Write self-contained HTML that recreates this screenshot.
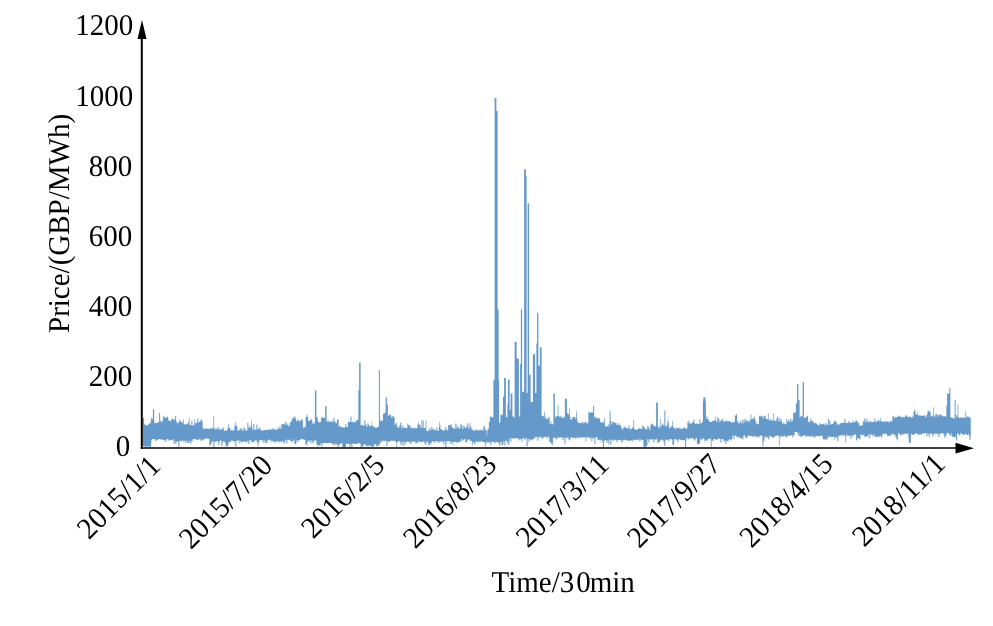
<!DOCTYPE html>
<html><head><meta charset="utf-8"><style>
html,body{margin:0;padding:0;background:#fff;width:993px;height:626px;overflow:hidden;position:relative}
.t{font-family:"Liberation Serif",serif;font-size:29px;fill:#000;text-rendering:geometricPrecision}
</style></head><body>
<svg width="993" height="626" viewBox="0 0 993 626" style="position:absolute;left:0;top:0;will-change:transform"><defs><filter id="bl" x="-1%" y="-5%" width="102%" height="110%"><feGaussianBlur stdDeviation="0.45"/></filter></defs><polygon filter="url(#bl)" fill="rgb(101,153,201)" points="142.50,418.4 143.38,418.4 143.38,417.3 144.12,417.3 144.12,424.0 144.38,424.0 144.38,424.5 145.38,424.5 145.38,425.6 147.38,425.6 147.38,424.9 148.38,424.9 148.38,424.1 148.88,424.1 148.88,423.1 149.38,423.1 149.38,423.8 150.38,423.8 150.38,422.4 150.88,422.4 150.88,417.4 151.38,417.4 151.38,417.6 151.62,417.6 151.62,419.6 152.38,419.6 152.38,418.5 152.88,418.5 152.88,409.3 154.12,409.3 154.12,420.4 154.38,420.4 154.38,423.3 155.38,423.3 155.38,422.9 156.38,422.9 156.38,423.2 157.38,423.2 157.38,421.9 158.38,421.9 158.38,422.2 159.12,422.2 159.12,412.1 159.38,412.1 159.38,413.3 160.12,413.3 160.12,422.3 160.38,422.3 160.38,420.6 161.38,420.6 161.38,421.8 162.38,421.8 162.38,421.4 162.88,421.4 162.88,417.5 163.38,417.5 163.38,416.0 164.38,416.0 164.38,418.1 165.38,418.1 165.38,417.3 165.62,417.3 165.62,417.8 166.38,417.8 166.38,416.9 167.38,416.9 167.38,416.5 168.12,416.5 168.12,418.8 168.38,418.8 168.38,420.4 169.38,420.4 169.38,421.0 170.38,421.0 170.38,421.2 171.38,421.2 171.38,419.0 172.38,419.0 172.38,418.8 173.38,418.8 173.38,419.4 174.38,419.4 174.38,419.9 175.12,419.9 175.12,417.1 175.38,417.1 175.38,416.0 176.12,416.0 176.12,420.6 176.38,420.6 176.38,422.5 177.38,422.5 177.38,423.4 178.38,423.4 178.38,421.8 179.38,421.8 179.38,420.7 179.62,420.7 179.62,419.6 180.38,419.6 180.38,421.6 181.38,421.6 181.38,422.4 182.38,422.4 182.38,422.1 182.88,422.1 182.88,419.3 183.38,419.3 183.38,419.5 183.62,419.5 183.62,424.5 184.38,424.5 184.38,424.4 185.38,424.4 185.38,423.8 186.38,423.8 186.38,424.5 187.38,424.5 187.38,423.3 188.38,423.3 188.38,421.9 188.88,421.9 188.88,417.5 189.38,417.5 189.38,419.5 189.62,419.5 189.62,425.2 190.38,425.2 190.38,425.0 191.38,425.0 191.38,420.6 192.38,420.6 192.38,425.4 193.38,425.4 193.38,425.3 194.38,425.3 194.38,419.3 195.12,419.3 195.12,422.1 195.38,422.1 195.38,423.5 196.38,423.5 196.38,422.8 197.38,422.8 197.38,418.6 198.38,418.6 198.38,422.3 199.38,422.3 199.38,421.7 200.38,421.7 200.38,419.8 201.38,419.8 201.38,420.2 202.38,420.2 202.38,422.7 202.62,422.7 202.62,428.2 203.38,428.2 203.38,428.8 204.38,428.8 204.38,428.9 205.38,428.9 205.38,428.6 206.38,428.6 206.38,428.3 207.38,428.3 207.38,429.0 208.38,429.0 208.38,428.8 209.38,428.8 209.38,429.0 210.38,429.0 210.38,427.5 211.38,427.5 211.38,428.5 212.38,428.5 212.38,428.3 213.38,428.3 213.38,416.0 214.12,416.0 214.12,426.5 214.38,426.5 214.38,428.5 215.38,428.5 215.38,429.4 216.38,429.4 216.38,428.8 217.38,428.8 217.38,426.7 218.38,426.7 218.38,429.5 219.38,429.5 219.38,428.3 220.12,428.3 220.12,429.6 220.38,429.6 220.38,429.5 221.38,429.5 221.38,429.6 222.38,429.6 222.38,427.6 223.38,427.6 223.38,428.5 223.88,428.5 223.88,430.8 224.38,430.8 224.38,431.0 225.38,431.0 225.38,430.1 226.38,430.1 226.38,430.7 227.38,430.7 227.38,428.6 228.12,428.6 228.12,424.7 228.38,424.7 228.38,424.3 228.88,424.3 228.88,427.7 229.38,427.7 229.38,428.1 230.38,428.1 230.38,430.4 231.38,430.4 231.38,430.1 232.38,430.1 232.38,430.8 233.38,430.8 233.38,430.3 234.38,430.3 234.38,425.8 235.12,425.8 235.12,421.9 235.38,421.9 235.38,422.5 235.88,422.5 235.88,426.6 236.38,426.6 236.38,426.0 237.38,426.0 237.38,430.6 239.38,430.6 239.38,429.4 240.38,429.4 240.38,428.1 241.38,428.1 241.38,429.3 242.38,429.3 242.38,430.9 243.38,430.9 243.38,427.2 244.38,427.2 244.38,428.8 245.38,428.8 245.38,430.7 246.38,430.7 246.38,430.4 247.38,430.4 247.38,422.8 248.38,422.8 248.38,427.7 249.38,427.7 249.38,426.4 250.38,426.4 250.38,428.3 250.88,428.3 250.88,423.3 251.38,423.3 251.38,419.7 251.88,419.7 251.88,426.4 252.38,426.4 252.38,429.9 253.38,429.9 253.38,423.9 254.38,423.9 254.38,429.5 255.38,429.5 255.38,430.0 256.38,430.0 256.38,424.5 257.38,424.5 257.38,429.0 258.38,429.0 258.38,429.3 259.12,429.3 259.12,428.1 259.38,428.1 259.38,426.2 259.62,426.2 259.62,428.0 260.38,428.0 260.38,430.3 261.38,430.3 261.38,430.4 262.38,430.4 262.38,430.3 263.38,430.3 263.38,430.6 264.38,430.6 264.38,430.1 265.38,430.1 265.38,429.4 266.38,429.4 266.38,429.9 267.38,429.9 267.38,429.7 268.38,429.7 268.38,429.6 269.38,429.6 269.38,429.9 270.38,429.9 270.38,429.0 271.38,429.0 271.38,428.7 271.62,428.7 271.62,429.9 272.38,429.9 272.38,428.1 273.38,428.1 273.38,429.6 274.38,429.6 274.38,428.9 275.38,428.9 275.38,430.0 276.38,430.0 276.38,429.7 277.38,429.7 277.38,427.8 278.38,427.8 278.38,428.9 279.38,428.9 279.38,426.3 280.38,426.3 280.38,428.7 281.38,428.7 281.38,424.1 282.38,424.1 282.38,424.2 284.38,424.2 284.38,423.3 284.88,423.3 284.88,424.4 285.38,424.4 285.38,421.7 286.38,421.7 286.38,425.0 287.38,425.0 287.38,423.4 288.38,423.4 288.38,426.1 289.38,426.1 289.38,426.2 289.88,426.2 289.88,422.3 291.38,422.3 291.38,419.9 292.12,419.9 292.12,416.5 292.38,416.5 292.38,418.7 293.38,418.7 293.38,417.3 294.38,417.3 294.38,416.5 295.38,416.5 295.38,418.6 296.12,418.6 296.12,421.4 296.38,421.4 296.38,421.0 297.38,421.0 297.38,419.3 298.38,419.3 298.38,421.5 299.38,421.5 299.38,420.6 299.88,420.6 299.88,420.1 300.38,420.1 300.38,421.0 301.38,421.0 301.38,419.3 302.38,419.3 302.38,420.0 302.88,420.0 302.88,426.7 303.38,426.7 303.38,428.0 304.38,428.0 304.38,426.4 305.38,426.4 305.38,427.9 305.62,427.9 305.62,417.2 306.38,417.2 306.38,414.8 307.38,414.8 307.38,417.1 308.12,417.1 308.12,420.8 308.38,420.8 308.38,420.9 309.38,420.9 309.38,420.5 310.38,420.5 310.38,420.1 311.38,420.1 311.38,418.5 312.12,418.5 312.12,421.3 312.38,421.3 312.38,423.7 313.38,423.7 313.38,422.6 314.38,422.6 314.38,423.9 314.88,423.9 314.88,390.4 316.38,390.4 316.38,417.2 317.38,417.2 317.38,415.7 317.62,415.7 317.62,420.9 318.38,420.9 318.38,422.4 320.38,422.4 320.38,421.5 321.12,421.5 321.12,417.5 321.38,417.5 321.38,417.2 322.38,417.2 322.38,418.0 323.38,418.0 323.38,417.3 324.38,417.3 324.38,418.3 325.12,418.3 325.12,406.3 325.38,406.3 325.38,406.4 326.38,406.4 326.38,405.9 326.62,405.9 326.62,421.9 327.38,421.9 327.38,420.2 328.38,420.2 328.38,421.4 329.38,421.4 329.38,421.8 330.38,421.8 330.38,422.0 331.38,422.0 331.38,420.4 332.38,420.4 332.38,422.2 333.38,422.2 333.38,418.1 334.38,418.1 334.38,421.3 335.38,421.3 335.38,422.9 336.38,422.9 336.38,423.2 336.88,423.2 336.88,420.2 337.38,420.2 337.38,419.1 338.38,419.1 338.38,420.3 338.62,420.3 338.62,426.8 339.38,426.8 339.38,425.5 340.38,425.5 340.38,426.7 341.38,426.7 341.38,427.4 343.38,427.4 343.38,427.0 344.38,427.0 344.38,427.4 345.38,427.4 345.38,424.2 346.38,424.2 346.38,427.0 347.38,427.0 347.38,426.9 347.88,426.9 347.88,421.8 348.38,421.8 348.38,422.1 349.38,422.1 349.38,421.9 350.38,421.9 350.38,416.6 351.38,416.6 351.38,422.0 352.38,422.0 352.38,421.8 353.38,421.8 353.38,422.4 354.38,422.4 354.38,421.4 355.38,421.4 355.38,422.0 356.38,422.0 356.38,420.0 357.38,420.0 357.38,419.8 358.38,419.8 358.38,390.2 359.12,390.2 359.12,362.8 360.62,362.8 360.62,425.5 361.38,425.5 361.38,424.7 362.38,424.7 362.38,424.9 363.38,424.9 363.38,426.1 364.38,426.1 364.38,420.2 365.38,420.2 365.38,424.8 366.38,424.8 366.38,426.8 367.38,426.8 367.38,423.3 368.38,423.3 368.38,424.8 369.38,424.8 369.38,426.7 370.38,426.7 370.38,425.8 371.38,425.8 371.38,424.3 371.62,424.3 371.62,420.4 372.12,420.4 372.12,425.4 372.38,425.4 372.38,426.6 373.38,426.6 373.38,426.2 374.38,426.2 374.38,427.6 375.38,427.6 375.38,427.8 377.38,427.8 377.38,426.7 378.38,426.7 378.38,426.4 378.88,426.4 378.88,370.1 379.88,370.1 379.88,421.3 380.38,421.3 380.38,419.8 381.38,419.8 381.38,421.3 382.38,421.3 382.38,420.7 382.88,420.7 382.88,414.0 383.38,414.0 383.38,413.6 384.38,413.6 384.38,412.9 385.38,412.9 385.38,410.9 385.62,410.9 385.62,397.3 386.88,397.3 386.88,404.6 387.88,404.6 387.88,415.4 388.38,415.4 388.38,415.5 389.38,415.5 389.38,414.2 390.38,414.2 390.38,414.9 391.12,414.9 391.12,416.4 391.38,416.4 391.38,417.7 392.38,417.7 392.38,415.8 393.38,415.8 393.38,416.7 394.38,416.7 394.38,417.9 394.62,417.9 394.62,424.9 395.38,424.9 395.38,423.2 396.88,423.2 396.88,426.7 397.38,426.7 397.38,427.3 398.38,427.3 398.38,427.5 399.38,427.5 399.38,424.9 400.38,424.9 400.38,422.4 401.38,422.4 401.38,428.5 402.38,428.5 402.38,425.8 403.38,425.8 403.38,427.5 404.38,427.5 404.38,428.1 406.38,428.1 406.38,428.3 407.38,428.3 407.38,423.6 408.38,423.6 408.38,425.8 409.38,425.8 409.38,425.0 410.38,425.0 410.38,428.1 411.38,428.1 411.38,427.4 412.38,427.4 412.38,428.5 413.38,428.5 413.38,427.5 414.38,427.5 414.38,428.3 415.38,428.3 415.38,427.9 416.38,427.9 416.38,428.5 417.38,428.5 417.38,425.6 417.88,425.6 417.88,422.8 418.38,422.8 418.38,421.5 418.62,421.5 418.62,424.3 419.38,424.3 419.38,424.8 420.38,424.8 420.38,427.8 421.38,427.8 421.38,420.5 422.38,420.5 422.38,427.8 422.88,427.8 422.88,420.0 423.38,420.0 423.38,420.2 423.62,420.2 423.62,428.0 424.38,428.0 424.38,428.3 425.38,428.3 425.38,428.0 425.62,428.0 425.62,420.2 426.38,420.2 426.38,431.0 427.38,431.0 427.38,430.4 428.38,430.4 428.38,430.8 429.38,430.8 429.38,428.0 430.38,428.0 430.38,429.9 431.38,429.9 431.38,427.0 432.38,427.0 432.38,429.5 433.38,429.5 433.38,429.4 434.38,429.4 434.38,429.3 435.38,429.3 435.38,431.0 436.38,431.0 436.38,427.3 437.38,427.3 437.38,430.5 438.38,430.5 438.38,430.9 438.88,430.9 438.88,426.8 439.38,426.8 439.38,421.4 439.88,421.4 439.88,424.8 440.38,424.8 440.38,429.1 441.38,429.1 441.38,429.5 442.38,429.5 442.38,430.5 443.38,430.5 443.38,430.4 444.38,430.4 444.38,429.7 445.38,429.7 445.38,427.0 446.38,427.0 446.38,429.8 447.38,429.8 447.38,430.5 448.12,430.5 448.12,425.4 448.38,425.4 448.38,425.0 449.38,425.0 449.38,425.3 450.38,425.3 450.38,424.4 451.38,424.4 451.38,423.5 451.62,423.5 451.62,426.8 452.38,426.8 452.38,428.1 453.38,428.1 453.38,428.2 454.38,428.2 454.38,428.9 455.38,428.9 455.38,423.5 456.38,423.5 456.38,427.9 457.38,427.9 457.38,425.8 458.38,425.8 458.38,428.5 459.38,428.5 459.38,428.2 460.38,428.2 460.38,424.1 461.38,424.1 461.38,425.7 462.38,425.7 462.38,428.9 463.38,428.9 463.38,425.4 464.38,425.4 464.38,427.6 465.38,427.6 465.38,428.2 466.38,428.2 466.38,426.2 467.38,426.2 467.38,423.3 468.38,423.3 468.38,428.8 469.38,428.8 469.38,427.8 469.62,427.8 469.62,422.8 470.38,422.8 470.38,426.5 471.38,426.5 471.38,429.3 472.38,429.3 472.38,430.0 473.38,430.0 473.38,430.9 474.38,430.9 474.38,430.6 475.38,430.6 475.38,429.3 476.38,429.3 476.38,430.8 477.38,430.8 477.38,429.4 478.38,429.4 478.38,430.8 479.38,430.8 479.38,429.8 480.38,429.8 480.38,430.2 481.38,430.2 481.38,429.5 482.38,429.5 482.38,430.4 483.38,430.4 483.38,425.9 484.38,425.9 484.38,427.6 485.38,427.6 485.38,430.6 486.12,430.6 486.12,435.4 486.38,435.4 486.38,430.6 487.38,430.6 487.38,435.2 487.62,435.2 487.62,429.1 488.38,429.1 488.38,428.6 488.88,428.6 488.88,421.9 489.38,421.9 489.38,422.1 489.88,422.1 489.88,417.1 490.38,417.1 490.38,416.2 491.38,416.2 491.38,417.6 492.38,417.6 492.38,417.3 493.38,417.3 493.38,380.0 494.62,380.0 494.62,97.9 496.38,97.9 496.38,111.0 497.62,111.0 497.62,309.4 498.62,309.4 498.62,380.0 499.12,380.0 499.12,422.9 499.38,422.9 499.38,422.7 500.38,422.7 500.38,414.6 501.38,414.6 501.38,415.3 502.38,415.3 502.38,413.9 502.88,413.9 502.88,396.8 504.12,396.8 504.12,378.0 505.88,378.0 505.88,416.8 506.38,416.8 506.38,416.9 507.38,416.9 507.38,404.2 507.88,404.2 507.88,379.6 509.62,379.6 509.62,409.4 510.38,409.4 510.38,411.6 510.62,411.6 510.62,393.6 512.38,393.6 512.38,416.3 513.38,416.3 513.38,417.3 514.38,417.3 514.38,417.7 514.62,417.7 514.62,341.9 516.62,341.9 516.62,358.6 518.88,358.6 518.88,417.3 519.38,417.3 519.38,415.5 520.12,415.5 520.12,363.9 520.88,363.9 520.88,309.4 522.12,309.4 522.12,391.7 524.12,391.7 524.12,169.2 525.88,169.2 525.88,176.2 526.62,176.2 526.62,393.0 527.62,393.0 527.62,203.2 529.12,203.2 529.12,374.8 530.62,374.8 530.62,402.0 532.88,402.0 532.88,354.3 535.12,354.3 535.12,393.0 536.38,393.0 536.38,343.5 537.12,343.5 537.12,312.8 538.38,312.8 538.38,365.8 539.88,365.8 539.88,347.3 541.62,347.3 541.62,415.7 543.38,415.7 543.38,416.7 544.12,416.7 544.12,411.5 544.38,411.5 544.38,412.4 544.88,412.4 544.88,418.9 545.38,418.9 545.38,417.1 546.38,417.1 546.38,419.1 547.38,419.1 547.38,419.0 548.38,419.0 548.38,416.9 549.38,416.9 549.38,416.4 549.62,416.4 549.62,424.0 550.38,424.0 550.38,421.2 551.38,421.2 551.38,424.1 552.38,424.1 552.38,424.4 553.38,424.4 553.38,393.6 554.88,393.6 554.88,417.8 555.38,417.8 555.38,416.7 556.38,416.7 556.38,416.0 557.38,416.0 557.38,416.5 557.62,416.5 557.62,405.0 558.38,405.0 558.38,415.7 559.38,415.7 559.38,416.9 560.38,416.9 560.38,416.1 561.38,416.1 561.38,417.7 562.38,417.7 562.38,417.9 563.38,417.9 563.38,416.8 564.38,416.8 564.38,417.4 564.88,417.4 564.88,398.7 566.88,398.7 566.88,413.2 568.38,413.2 568.38,414.7 569.12,414.7 569.12,409.6 569.38,409.6 569.38,408.1 569.88,408.1 569.88,417.0 570.38,417.0 570.38,419.4 571.38,419.4 571.38,419.3 572.38,419.3 572.38,417.0 575.38,417.0 575.38,419.0 576.12,419.0 576.12,412.5 576.38,412.5 576.38,410.5 576.88,410.5 576.88,418.8 577.38,418.8 577.38,422.0 578.38,422.0 578.38,423.1 579.38,423.1 579.38,423.3 580.38,423.3 580.38,423.0 581.38,423.0 581.38,421.8 582.38,421.8 582.38,423.5 583.38,423.5 583.38,421.7 584.38,421.7 584.38,422.9 585.38,422.9 585.38,421.0 586.38,421.0 586.38,423.4 587.38,423.4 587.38,422.7 588.38,422.7 588.38,411.4 589.38,411.4 589.38,412.7 590.38,412.7 590.38,412.2 591.38,412.2 591.38,412.4 593.12,412.4 593.12,406.1 593.38,406.1 593.38,406.0 594.12,406.0 594.12,418.3 594.38,418.3 594.38,416.5 595.38,416.5 595.38,418.3 596.38,418.3 596.38,416.9 597.38,416.9 597.38,419.0 598.38,419.0 598.38,418.1 599.38,418.1 599.38,418.2 600.12,418.2 600.12,422.2 600.38,422.2 600.38,422.0 601.38,422.0 601.38,423.0 602.38,423.0 602.38,421.4 603.38,421.4 603.38,422.9 604.12,422.9 604.12,418.4 604.38,418.4 604.38,417.8 604.88,417.8 604.88,426.2 605.38,426.2 605.38,426.6 606.38,426.6 606.38,425.7 607.38,425.7 607.38,426.7 608.38,426.7 608.38,424.3 609.38,424.3 609.38,426.5 609.62,426.5 609.62,411.4 610.38,411.4 610.38,409.3 610.62,409.3 610.62,421.1 611.38,421.1 611.38,424.6 612.38,424.6 612.38,421.5 613.38,421.5 613.38,421.9 614.38,421.9 614.38,422.9 615.38,422.9 615.38,423.2 616.38,423.2 616.38,424.9 617.38,424.9 617.38,422.9 618.38,422.9 618.38,425.3 619.38,425.3 619.38,424.5 620.38,424.5 620.38,425.5 621.12,425.5 621.12,429.3 621.38,429.3 621.38,427.4 622.38,427.4 622.38,429.4 623.38,429.4 623.38,427.2 624.38,427.2 624.38,426.6 625.38,426.6 625.38,428.0 626.38,428.0 626.38,427.9 627.38,427.9 627.38,428.6 628.62,428.6 628.62,424.8 629.38,424.8 629.38,428.6 630.38,428.6 630.38,429.5 631.38,429.5 631.38,428.4 632.38,428.4 632.38,427.2 633.38,427.2 633.38,419.7 634.12,419.7 634.12,429.0 635.38,429.0 635.38,429.8 637.38,429.8 637.38,428.9 638.38,428.9 638.38,428.4 639.38,428.4 639.38,427.9 640.38,427.9 640.38,428.9 642.38,428.9 642.38,425.2 643.38,425.2 643.38,426.9 644.38,426.9 644.38,427.9 645.38,427.9 645.38,429.7 646.38,429.7 646.38,428.9 647.38,428.9 647.38,426.0 648.38,426.0 648.38,427.5 649.38,427.5 649.38,429.9 650.38,429.9 650.38,424.7 651.38,424.7 651.38,423.4 652.38,423.4 652.38,424.3 653.38,424.3 653.38,425.9 654.38,425.9 654.38,426.6 655.38,426.6 655.38,425.9 656.12,425.9 656.12,402.4 657.88,402.4 657.88,427.7 658.38,427.7 658.38,426.2 659.38,426.2 659.38,427.7 660.38,427.7 660.38,418.8 661.12,418.8 661.12,426.7 661.38,426.7 661.38,425.3 662.38,425.3 662.38,423.6 663.38,423.6 663.38,425.5 664.38,425.5 664.38,410.4 665.38,410.4 665.38,426.4 666.38,426.4 666.38,425.4 667.38,425.4 667.38,420.5 668.12,420.5 668.12,416.0 668.38,416.0 668.38,422.8 668.88,422.8 668.88,428.3 669.38,428.3 669.38,428.1 670.38,428.1 670.38,426.8 671.38,426.8 671.38,426.3 672.38,426.3 672.38,420.8 673.12,420.8 673.12,427.4 673.38,427.4 673.38,427.6 674.38,427.6 674.38,428.4 675.38,428.4 675.38,428.9 676.38,428.9 676.38,427.5 677.38,427.5 677.38,427.8 678.38,427.8 678.38,428.8 679.38,428.8 679.38,427.3 680.38,427.3 680.38,429.0 681.38,429.0 681.38,428.8 682.38,428.8 682.38,428.6 683.38,428.6 683.38,427.6 684.38,427.6 684.38,427.4 685.38,427.4 685.38,428.8 686.38,428.8 686.38,428.6 687.38,428.6 687.38,422.2 688.12,422.2 688.12,423.8 688.38,423.8 688.38,420.7 689.38,420.7 689.38,423.2 690.38,423.2 690.38,424.0 691.38,424.0 691.38,422.7 692.38,422.7 692.38,422.3 693.38,422.3 693.38,419.6 694.38,419.6 694.38,423.5 695.38,423.5 695.38,423.9 696.38,423.9 696.38,423.2 697.38,423.2 697.38,423.9 698.38,423.9 698.38,424.0 699.38,424.0 699.38,419.5 700.38,419.5 700.38,423.6 701.38,423.6 701.38,422.9 702.38,422.9 702.38,421.3 702.88,421.3 702.88,401.0 703.38,401.0 703.38,397.3 705.38,397.3 705.38,401.0 705.88,401.0 705.88,416.6 706.38,416.6 706.38,419.0 707.38,419.0 707.38,416.8 708.12,416.8 708.12,420.2 709.38,420.2 709.38,422.0 711.38,422.0 711.38,421.7 712.38,421.7 712.38,420.5 713.38,420.5 713.38,420.4 714.38,420.4 714.38,421.1 714.88,421.1 714.88,417.2 715.38,417.2 715.38,416.0 715.62,416.0 715.62,420.0 716.38,420.0 716.38,422.0 717.38,422.0 717.38,417.1 718.38,417.1 718.38,419.1 719.38,419.1 719.38,422.0 720.38,422.0 720.38,420.3 722.38,420.3 722.38,419.1 723.38,419.1 723.38,422.1 724.38,422.1 724.38,420.9 725.38,420.9 725.38,420.7 726.38,420.7 726.38,421.5 727.38,421.5 727.38,420.6 728.38,420.6 728.38,421.6 729.38,421.6 729.38,421.1 730.38,421.1 730.38,422.1 731.38,422.1 731.38,422.4 732.38,422.4 732.38,422.3 734.38,422.3 734.38,421.8 734.88,421.8 734.88,415.0 735.38,415.0 735.38,415.7 736.38,415.7 736.38,413.8 737.12,413.8 737.12,421.6 738.38,421.6 738.38,423.4 739.38,423.4 739.38,422.8 740.38,422.8 740.38,420.8 741.38,420.8 741.38,423.4 742.38,423.4 742.38,419.6 743.38,419.6 743.38,423.3 743.88,423.3 743.88,418.8 744.62,418.8 744.62,422.2 745.38,422.2 745.38,419.4 746.38,419.4 746.38,420.8 748.38,420.8 748.38,422.2 749.38,422.2 749.38,420.1 750.38,420.1 750.38,421.8 750.62,421.8 750.62,414.5 751.38,414.5 751.38,419.0 752.38,419.0 752.38,418.5 753.38,418.5 753.38,418.3 754.38,418.3 754.38,416.5 755.12,416.5 755.12,419.3 755.38,419.3 755.38,421.5 756.38,421.5 756.38,424.5 757.38,424.5 757.38,423.7 758.38,423.7 758.38,423.9 758.88,423.9 758.88,416.1 759.38,416.1 759.38,415.6 759.88,415.6 759.88,417.1 760.38,417.1 760.38,415.8 762.38,415.8 762.38,418.3 763.38,418.3 763.38,416.0 764.38,416.0 764.38,418.3 764.62,418.3 764.62,415.7 765.38,415.7 765.38,414.6 765.62,414.6 765.62,418.5 766.38,418.5 766.38,419.3 767.38,419.3 767.38,418.9 767.88,418.9 767.88,413.1 768.38,413.1 768.38,413.3 768.62,413.3 768.62,420.3 770.38,420.3 770.38,418.9 771.38,418.9 771.38,420.6 772.38,420.6 772.38,420.7 773.38,420.7 773.38,413.2 774.12,413.2 774.12,420.1 774.38,420.1 774.38,420.4 775.38,420.4 775.38,421.2 776.38,421.2 776.38,418.5 777.38,418.5 777.38,416.5 778.38,416.5 778.38,421.6 779.38,421.6 779.38,418.3 780.38,418.3 780.38,421.2 781.38,421.2 781.38,419.2 782.12,419.2 782.12,424.3 782.38,424.3 782.38,423.5 783.38,423.5 783.38,422.5 784.38,422.5 784.38,424.0 785.38,424.0 785.38,424.4 786.38,424.4 786.38,419.1 787.12,419.1 787.12,420.3 787.38,420.3 787.38,421.7 788.38,421.7 788.38,419.6 789.38,419.6 789.38,421.8 790.38,421.8 790.38,418.5 791.38,418.5 791.38,421.7 792.38,421.7 792.38,420.1 793.12,420.1 793.12,411.3 793.38,411.3 793.38,412.9 794.38,412.9 794.38,412.7 795.38,412.7 795.38,412.0 795.88,412.0 795.88,403.2 797.12,403.2 797.12,384.1 798.38,384.1 798.38,400.0 799.62,400.0 799.62,418.1 800.38,418.1 800.38,415.8 801.38,415.8 801.38,416.2 802.38,416.2 802.38,418.0 802.62,418.0 802.62,382.1 803.88,382.1 803.88,418.1 804.38,418.1 804.38,417.5 806.38,417.5 806.38,416.4 807.38,416.4 807.38,415.4 808.12,415.4 808.12,420.9 808.38,420.9 808.38,422.3 809.38,422.3 809.38,421.7 810.38,421.7 810.38,418.7 811.38,418.7 811.38,421.1 812.38,421.1 812.38,421.6 813.38,421.6 813.38,420.5 813.62,420.5 813.62,423.5 814.38,423.5 814.38,423.1 815.38,423.1 815.38,422.4 816.38,422.4 816.38,423.9 817.38,423.9 817.38,424.9 818.38,424.9 818.38,425.3 819.38,425.3 819.38,423.1 820.38,423.1 820.38,423.9 821.38,423.9 821.38,424.6 822.38,424.6 822.38,423.9 823.38,423.9 823.38,423.7 824.38,423.7 824.38,425.2 825.38,425.2 825.38,423.1 826.38,423.1 826.38,424.4 827.38,424.4 827.38,425.4 827.88,425.4 827.88,418.9 828.38,418.9 828.38,418.7 828.88,418.7 828.88,424.7 829.38,424.7 829.38,420.5 830.38,420.5 830.38,424.8 831.38,424.8 831.38,423.8 832.38,423.8 832.38,423.9 833.38,423.9 833.38,422.2 834.12,422.2 834.12,419.2 834.38,419.2 834.38,421.2 835.38,421.2 835.38,421.6 836.38,421.6 836.38,421.2 836.62,421.2 836.62,424.2 837.38,424.2 837.38,424.8 838.38,424.8 838.38,424.3 839.38,424.3 839.38,424.5 839.88,424.5 839.88,423.0 840.38,423.0 840.38,423.5 841.38,423.5 841.38,422.6 842.38,422.6 842.38,422.8 843.38,422.8 843.38,423.1 844.38,423.1 844.38,419.0 845.38,419.0 845.38,423.1 846.38,423.1 846.38,422.7 847.38,422.7 847.38,423.3 848.38,423.3 848.38,420.8 849.38,420.8 849.38,422.5 850.38,422.5 850.38,423.1 851.38,423.1 851.38,422.8 852.38,422.8 852.38,420.8 853.38,420.8 853.38,422.5 854.38,422.5 854.38,422.2 855.38,422.2 855.38,420.6 856.38,420.6 856.38,420.5 857.38,420.5 857.38,422.7 858.38,422.7 858.38,422.6 859.12,422.6 859.12,425.1 859.38,425.1 859.38,426.0 860.38,426.0 860.38,425.5 861.38,425.5 861.38,425.4 862.38,425.4 862.38,425.1 862.88,425.1 862.88,421.6 863.38,421.6 863.38,420.8 864.38,420.8 864.38,418.3 865.38,418.3 865.38,422.4 866.38,422.4 866.38,418.7 867.38,418.7 867.38,422.3 868.38,422.3 868.38,420.9 869.38,420.9 869.38,422.5 870.38,422.5 870.38,420.8 871.38,420.8 871.38,422.3 872.38,422.3 872.38,422.1 873.38,422.1 873.38,421.8 874.38,421.8 874.38,418.7 875.38,418.7 875.38,422.2 876.38,422.2 876.38,421.0 877.38,421.0 877.38,420.7 878.38,420.7 878.38,420.0 879.38,420.0 879.38,422.1 879.88,422.1 879.88,417.9 880.38,417.9 880.38,417.1 880.62,417.1 880.62,421.3 881.38,421.3 881.38,421.6 882.38,421.6 882.38,421.2 883.38,421.2 883.38,422.1 884.38,422.1 884.38,421.4 885.38,421.4 885.38,421.5 886.38,421.5 886.38,421.4 887.38,421.4 887.38,421.3 888.38,421.3 888.38,422.5 889.38,422.5 889.38,421.5 890.38,421.5 890.38,420.7 891.38,420.7 891.38,421.7 892.38,421.7 892.38,415.8 893.38,415.8 893.38,416.7 894.38,416.7 894.38,418.3 895.38,418.3 895.38,416.5 896.12,416.5 896.12,416.2 896.38,416.2 896.38,417.4 897.38,417.4 897.38,416.9 898.38,416.9 898.38,415.5 899.38,415.5 899.38,416.0 900.38,416.0 900.38,417.3 902.38,417.3 902.38,416.8 903.38,416.8 903.38,417.6 904.38,417.6 904.38,417.1 905.38,417.1 905.38,415.5 907.38,415.5 907.38,416.9 909.38,416.9 909.38,416.3 910.38,416.3 910.38,417.4 912.38,417.4 912.38,416.4 913.38,416.4 913.38,411.8 914.38,411.8 914.38,409.4 915.38,409.4 915.38,414.3 916.38,414.3 916.38,414.4 917.38,414.4 917.38,411.9 917.88,411.9 917.88,415.0 918.38,415.0 918.38,415.8 919.38,415.8 919.38,415.0 920.38,415.0 920.38,416.0 921.38,416.0 921.38,415.6 922.38,415.6 922.38,415.7 924.38,415.7 924.38,415.2 925.38,415.2 925.38,417.2 926.38,417.2 926.38,415.1 927.38,415.1 927.38,411.4 928.38,411.4 928.38,410.6 929.38,410.6 929.38,411.8 930.38,411.8 930.38,412.5 930.62,412.5 930.62,416.4 932.38,416.4 932.38,415.4 933.38,415.4 933.38,407.3 934.12,407.3 934.12,416.4 935.38,416.4 935.38,414.0 937.38,414.0 937.38,416.5 938.38,416.5 938.38,415.1 939.38,415.1 939.38,414.0 940.38,414.0 940.38,415.6 941.38,415.6 941.38,414.8 942.38,414.8 942.38,416.2 943.38,416.2 943.38,416.5 944.38,416.5 944.38,416.3 945.38,416.3 945.38,416.4 946.38,416.4 946.38,405.8 947.12,405.8 947.12,393.6 949.38,393.6 949.38,387.9 950.38,387.9 950.38,417.5 951.38,417.5 951.38,417.4 952.38,417.4 952.38,417.9 953.38,417.9 953.38,418.5 954.38,418.5 954.38,419.0 954.62,419.0 954.62,400.0 955.62,400.0 955.62,415.0 956.38,415.0 956.38,417.0 957.38,417.0 957.38,414.5 957.62,414.5 957.62,404.3 958.38,404.3 958.38,417.7 959.38,417.7 959.38,418.0 960.38,418.0 960.38,417.2 961.38,417.2 961.38,417.6 962.38,417.6 962.38,417.4 963.38,417.4 963.38,418.0 964.38,418.0 964.38,417.6 965.38,417.6 965.38,411.4 966.12,411.4 966.12,416.7 966.38,416.7 966.38,417.5 967.38,417.5 967.38,415.8 968.38,415.8 968.38,417.0 969.38,417.0 969.38,418.2 970.38,418.2 970.38,416.4 970.75,416.4 970.75,437.3 970.38,437.3 970.38,439.9 969.38,439.9 969.38,435.3 968.88,435.3 968.88,433.4 968.38,433.4 968.38,435.0 967.38,435.0 967.38,435.1 966.38,435.1 966.38,433.7 965.38,433.7 965.38,434.3 964.38,434.3 964.38,435.1 963.38,435.1 963.38,434.5 962.38,434.5 962.38,434.1 961.38,434.1 961.38,433.0 960.38,433.0 960.38,435.7 959.38,435.7 959.38,434.7 958.38,434.7 958.38,433.0 957.38,433.0 957.38,434.4 957.12,434.4 957.12,440.7 956.38,440.7 956.38,439.2 955.88,439.2 955.88,435.4 955.38,435.4 955.38,437.2 953.38,437.2 953.38,437.1 952.38,437.1 952.38,435.5 951.88,435.5 951.88,433.1 951.38,433.1 951.38,435.7 950.38,435.7 950.38,435.1 949.38,435.1 949.38,433.3 948.38,433.3 948.38,433.4 947.38,433.4 947.38,433.0 946.38,433.0 946.38,435.9 945.38,435.9 945.38,437.7 944.38,437.7 944.38,434.6 943.38,434.6 943.38,433.0 942.38,433.0 942.38,433.3 941.38,433.3 941.38,433.2 940.38,433.2 940.38,433.9 939.38,433.9 939.38,436.9 938.38,436.9 938.38,433.7 937.38,433.7 937.38,433.8 936.38,433.8 936.38,434.2 935.38,434.2 935.38,433.2 934.38,433.2 934.38,434.2 933.38,434.2 933.38,436.8 932.38,436.8 932.38,433.8 930.38,433.8 930.38,433.4 929.62,433.4 929.62,436.4 929.38,436.4 929.38,437.8 928.88,437.8 928.88,435.2 928.38,435.2 928.38,433.6 927.38,433.6 927.38,436.4 926.38,436.4 926.38,433.1 924.38,433.1 924.38,433.9 923.38,433.9 923.38,433.3 922.38,433.3 922.38,434.3 921.38,434.3 921.38,434.4 920.38,434.4 920.38,434.3 919.38,434.3 919.38,435.2 918.38,435.2 918.38,434.3 917.38,434.3 917.38,433.3 916.38,433.3 916.38,433.5 915.38,433.5 915.38,434.1 914.38,434.1 914.38,434.8 913.38,434.8 913.38,435.1 912.38,435.1 912.38,434.2 911.38,434.2 911.38,433.5 910.88,433.5 910.88,442.0 910.38,442.0 910.38,443.3 908.88,443.3 908.88,438.2 908.38,438.2 908.38,433.4 907.38,433.4 907.38,433.7 906.38,433.7 906.38,433.5 905.38,433.5 905.38,434.1 904.38,434.1 904.38,433.8 903.38,433.8 903.38,435.1 902.38,435.1 902.38,433.9 901.38,433.9 901.38,435.8 900.38,435.8 900.38,434.4 899.38,434.4 899.38,433.0 898.38,433.0 898.38,433.9 897.88,433.9 897.88,440.2 897.38,440.2 897.38,441.1 897.12,441.1 897.12,439.1 896.38,439.1 896.38,437.3 895.38,437.3 895.38,434.8 894.38,434.8 894.38,434.9 893.38,434.9 893.38,433.6 892.38,433.6 892.38,434.3 891.38,434.3 891.38,436.1 890.38,436.1 890.38,434.7 889.38,434.7 889.38,436.1 888.38,436.1 888.38,436.3 887.38,436.3 887.38,434.5 886.38,434.5 886.38,433.7 885.38,433.7 885.38,433.6 884.38,433.6 884.38,433.7 883.38,433.7 883.38,433.9 882.38,433.9 882.38,436.5 881.88,436.5 881.88,437.8 881.12,437.8 881.12,436.1 880.38,436.1 880.38,435.9 879.38,435.9 879.38,436.8 878.38,436.8 878.38,437.3 877.38,437.3 877.38,436.3 876.38,436.3 876.38,437.3 875.38,437.3 875.38,436.4 874.38,436.4 874.38,434.4 873.38,434.4 873.38,436.3 872.38,436.3 872.38,434.4 871.38,434.4 871.38,434.6 870.38,434.6 870.38,438.4 869.38,438.4 869.38,434.2 868.38,434.2 868.38,436.7 867.38,436.7 867.38,436.3 866.38,436.3 866.38,436.7 865.38,436.7 865.38,436.9 864.38,436.9 864.38,434.8 863.38,434.8 863.38,435.6 862.38,435.6 862.38,435.1 861.38,435.1 861.38,434.6 860.38,434.6 860.38,439.8 859.38,439.8 859.38,438.3 858.38,438.3 858.38,438.4 857.12,438.4 857.12,440.4 856.38,440.4 856.38,440.6 856.12,440.6 856.12,434.8 855.38,434.8 855.38,434.4 854.38,434.4 854.38,434.7 853.38,434.7 853.38,436.6 852.38,436.6 852.38,435.6 851.38,435.6 851.38,438.8 850.38,438.8 850.38,435.4 849.38,435.4 849.38,435.6 848.38,435.6 848.38,436.3 847.38,436.3 847.38,434.5 846.38,434.5 846.38,436.5 846.12,436.5 846.12,442.4 845.38,442.4 845.38,435.2 844.38,435.2 844.38,436.1 843.38,436.1 843.38,434.6 842.38,434.6 842.38,435.9 841.38,435.9 841.38,435.0 840.38,435.0 840.38,434.9 840.12,434.9 840.12,436.2 839.38,436.2 839.38,435.6 838.38,435.6 838.38,441.3 837.38,441.3 837.38,437.5 836.38,437.5 836.38,437.1 835.38,437.1 835.38,439.6 834.38,439.6 834.38,436.5 833.38,436.5 833.38,436.9 832.38,436.9 832.38,437.3 831.38,437.3 831.38,436.7 830.38,436.7 830.38,436.5 829.38,436.5 829.38,437.6 828.38,437.6 828.38,436.6 827.62,436.6 827.62,439.1 827.38,439.1 827.38,439.8 826.38,439.8 826.38,438.7 825.38,438.7 825.38,439.5 824.38,439.5 824.38,439.8 823.38,439.8 823.38,438.7 822.62,438.7 822.62,435.7 822.38,435.7 822.38,435.9 821.38,435.9 821.38,435.4 820.38,435.4 820.38,436.7 819.38,436.7 819.38,435.8 818.38,435.8 818.38,436.4 817.38,436.4 817.38,435.8 816.38,435.8 816.38,436.6 815.38,436.6 815.38,436.7 814.38,436.7 814.38,438.0 813.38,438.0 813.38,435.4 812.38,435.4 812.38,436.9 811.38,436.9 811.38,435.8 810.38,435.8 810.38,436.9 809.38,436.9 809.38,436.3 808.38,436.3 808.38,435.9 807.38,435.9 807.38,436.0 806.38,436.0 806.38,437.2 805.38,437.2 805.38,435.0 804.38,435.0 804.38,435.3 803.38,435.3 803.38,436.4 802.38,436.4 802.38,435.8 801.38,435.8 801.38,437.2 800.38,437.2 800.38,435.7 799.62,435.7 799.62,432.3 799.38,432.3 799.38,436.2 798.38,436.2 798.38,433.4 797.38,433.4 797.38,431.9 796.38,431.9 796.38,431.8 795.38,431.8 795.38,432.2 794.62,432.2 794.62,435.4 794.38,435.4 794.38,435.0 793.38,435.0 793.38,437.4 792.38,437.4 792.38,435.3 791.38,435.3 791.38,435.2 790.38,435.2 790.38,435.7 789.38,435.7 789.38,436.0 788.38,436.0 788.38,435.6 787.38,435.6 787.38,436.7 786.38,436.7 786.38,437.4 785.38,437.4 785.38,435.4 784.38,435.4 784.38,436.3 783.38,436.3 783.38,436.8 782.38,436.8 782.38,435.7 781.38,435.7 781.38,437.8 780.38,437.8 780.38,435.8 779.62,435.8 779.62,446.0 779.38,446.0 779.38,445.4 778.88,445.4 778.88,435.9 778.38,435.9 778.38,435.5 777.38,435.5 777.38,435.6 776.38,435.6 776.38,436.2 775.38,436.2 775.38,436.1 774.38,436.1 774.38,437.7 772.38,437.7 772.38,436.9 771.38,436.9 771.38,436.5 770.38,436.5 770.38,435.8 769.38,435.8 769.38,439.5 768.38,439.5 768.38,438.0 767.38,438.0 767.38,436.5 766.38,436.5 766.38,437.7 765.38,437.7 765.38,436.4 764.38,436.4 764.38,440.8 763.38,440.8 763.38,446.0 762.38,446.0 762.38,435.8 761.38,435.8 761.38,435.6 760.38,435.6 760.38,435.8 759.38,435.8 759.38,437.2 758.38,437.2 758.38,437.6 757.38,437.6 757.38,436.2 756.38,436.2 756.38,436.8 755.38,436.8 755.38,436.5 754.38,436.5 754.38,436.0 753.38,436.0 753.38,437.3 752.38,437.3 752.38,435.9 751.38,435.9 751.38,436.3 750.38,436.3 750.38,435.8 749.38,435.8 749.38,435.6 748.38,435.6 748.38,436.0 747.38,436.0 747.38,437.9 746.38,437.9 746.38,437.8 745.38,437.8 745.38,435.5 744.38,435.5 744.38,435.8 743.38,435.8 743.38,439.5 742.38,439.5 742.38,438.3 741.38,438.3 741.38,438.6 740.38,438.6 740.38,437.9 739.38,437.9 739.38,436.7 738.38,436.7 738.38,437.4 737.38,437.4 737.38,436.9 736.38,436.9 736.38,435.6 735.38,435.6 735.38,435.7 734.38,435.7 734.38,439.2 733.38,439.2 733.38,435.5 732.38,435.5 732.38,438.9 731.62,438.9 731.62,441.9 731.38,441.9 731.38,439.9 730.38,439.9 730.38,439.0 729.38,439.0 729.38,440.3 728.38,440.3 728.38,441.2 727.38,441.2 727.38,441.1 726.38,441.1 726.38,443.9 725.38,443.9 725.38,440.2 724.38,440.2 724.38,441.8 723.38,441.8 723.38,439.1 721.38,439.1 721.38,442.6 720.38,442.6 720.38,438.9 719.38,438.9 719.38,438.5 718.38,438.5 718.38,438.8 717.38,438.8 717.38,439.9 716.38,439.9 716.38,439.5 715.38,439.5 715.38,439.3 714.38,439.3 714.38,438.9 713.38,438.9 713.38,441.1 712.38,441.1 712.38,440.4 711.62,440.4 711.62,447.4 711.38,447.4 711.38,446.8 710.88,446.8 710.88,438.4 710.38,438.4 710.38,438.5 709.38,438.5 709.38,439.1 708.38,439.1 708.38,439.2 707.38,439.2 707.38,440.9 706.38,440.9 706.38,440.1 705.38,440.1 705.38,441.4 704.38,441.4 704.38,438.8 703.38,438.8 703.38,438.6 702.38,438.6 702.38,439.7 701.38,439.7 701.38,439.6 700.38,439.6 700.38,438.5 700.12,438.5 700.12,443.0 699.38,443.0 699.38,443.9 698.38,443.9 698.38,444.6 697.38,444.6 697.38,443.2 696.88,443.2 696.88,437.9 696.38,437.9 696.38,438.6 695.38,438.6 695.38,440.8 694.38,440.8 694.38,439.4 693.38,439.4 693.38,438.3 692.38,438.3 692.38,438.1 691.38,438.1 691.38,438.9 690.38,438.9 690.38,437.9 689.38,437.9 689.38,439.6 688.38,439.6 688.38,438.9 687.38,438.9 687.38,437.7 686.38,437.7 686.38,441.4 686.12,441.4 686.12,447.4 685.12,447.4 685.12,440.3 684.38,440.3 684.38,439.7 683.38,439.7 683.38,440.6 682.38,440.6 682.38,440.0 680.38,440.0 680.38,439.4 679.88,439.4 679.88,439.0 679.38,439.0 679.38,439.4 678.38,439.4 678.38,442.2 677.38,442.2 677.38,439.8 676.38,439.8 676.38,439.2 675.38,439.2 675.38,439.0 674.38,439.0 674.38,440.5 674.12,440.5 674.12,444.8 672.38,444.8 672.38,439.4 671.38,439.4 671.38,439.1 670.38,439.1 670.38,439.3 669.38,439.3 669.38,441.0 668.38,441.0 668.38,440.2 667.38,440.2 667.38,439.4 666.38,439.4 666.38,439.7 665.38,439.7 665.38,445.9 664.38,445.9 664.38,442.0 663.38,442.0 663.38,440.1 662.38,440.1 662.38,439.6 661.38,439.6 661.38,440.1 660.38,440.1 660.38,441.2 659.38,441.2 659.38,442.2 658.38,442.2 658.38,442.9 657.38,442.9 657.38,439.3 656.38,439.3 656.38,439.5 655.38,439.5 655.38,439.4 654.38,439.4 654.38,442.5 653.38,442.5 653.38,439.2 652.38,439.2 652.38,439.5 651.38,439.5 651.38,439.2 650.38,439.2 650.38,439.6 649.38,439.6 649.38,442.7 648.38,442.7 648.38,439.3 647.38,439.3 647.38,445.7 645.88,445.7 645.88,447.4 644.12,447.4 644.12,446.5 643.38,446.5 643.38,439.7 642.38,439.7 642.38,440.2 641.38,440.2 641.38,439.6 640.38,439.6 640.38,441.6 639.38,441.6 639.38,439.6 637.38,439.6 637.38,440.3 635.38,440.3 635.38,439.7 634.38,439.7 634.38,439.8 633.38,439.8 633.38,441.6 632.38,441.6 632.38,439.9 631.38,439.9 631.38,440.9 630.38,440.9 630.38,440.3 629.38,440.3 629.38,441.0 628.38,441.0 628.38,440.7 627.38,440.7 627.38,440.0 626.38,440.0 626.38,440.6 625.38,440.6 625.38,439.7 624.38,439.7 624.38,439.6 623.38,439.6 623.38,440.7 622.38,440.7 622.38,442.7 621.38,442.7 621.38,439.9 620.38,439.9 620.38,440.2 618.38,440.2 618.38,439.8 617.38,439.8 617.38,442.1 616.38,442.1 616.38,439.9 615.38,439.9 615.38,439.7 614.38,439.7 614.38,440.9 613.38,440.9 613.38,440.2 612.38,440.2 612.38,439.6 611.38,439.6 611.38,444.7 610.38,444.7 610.38,439.7 609.38,439.7 609.38,444.3 608.38,444.3 608.38,440.4 607.38,440.4 607.38,443.1 606.38,443.1 606.38,440.0 605.38,440.0 605.38,440.5 604.38,440.5 604.38,440.9 603.88,440.9 603.88,447.4 602.88,447.4 602.88,442.8 602.38,442.8 602.38,440.5 601.38,440.5 601.38,439.6 600.38,439.6 600.38,442.4 599.88,442.4 599.88,440.0 599.38,440.0 599.38,439.4 598.38,439.4 598.38,440.2 597.38,440.2 597.38,437.3 595.38,437.3 595.38,444.0 594.38,444.0 594.38,437.8 593.38,437.8 593.38,438.2 592.38,438.2 592.38,441.3 591.38,441.3 591.38,437.5 590.38,437.5 590.38,438.7 589.38,438.7 589.38,437.1 588.38,437.1 588.38,438.1 587.38,438.1 587.38,437.1 586.38,437.1 586.38,441.6 585.62,441.6 585.62,438.1 585.38,438.1 585.38,437.3 583.38,437.3 583.38,437.6 582.38,437.6 582.38,437.3 581.38,437.3 581.38,438.3 580.38,438.3 580.38,437.3 579.38,437.3 579.38,437.6 578.38,437.6 578.38,438.4 577.38,438.4 577.38,437.2 576.38,437.2 576.38,439.1 575.38,439.1 575.38,437.8 574.38,437.8 574.38,437.7 573.38,437.7 573.38,438.2 572.38,438.2 572.38,437.3 571.38,437.3 571.38,437.5 570.38,437.5 570.38,440.4 569.38,440.4 569.38,439.4 568.38,439.4 568.38,437.2 567.38,437.2 567.38,438.5 566.38,438.5 566.38,437.4 565.38,437.4 565.38,443.8 564.38,443.8 564.38,437.6 563.38,437.6 563.38,440.0 562.38,440.0 562.38,437.4 561.38,437.4 561.38,437.3 560.38,437.3 560.38,437.7 559.38,437.7 559.38,437.5 558.38,437.5 558.38,437.2 557.38,437.2 557.38,439.6 556.38,439.6 556.38,438.6 555.38,438.6 555.38,437.8 553.38,437.8 553.38,438.0 552.88,438.0 552.88,445.3 552.38,445.3 552.38,444.4 551.38,444.4 551.38,442.7 550.38,442.7 550.38,442.0 549.38,442.0 549.38,437.6 548.38,437.6 548.38,436.6 547.38,436.6 547.38,438.5 546.38,438.5 546.38,436.6 545.38,436.6 545.38,437.1 543.38,437.1 543.38,438.6 542.38,438.6 542.38,438.4 541.38,438.4 541.38,436.8 540.38,436.8 540.38,437.5 539.38,437.5 539.38,436.9 538.38,436.9 538.38,440.8 537.38,440.8 537.38,437.4 536.38,437.4 536.38,436.5 535.38,436.5 535.38,437.9 534.38,437.9 534.38,438.5 533.62,438.5 533.62,440.6 533.38,440.6 533.38,439.1 532.38,439.1 532.38,440.4 531.38,440.4 531.38,439.9 530.38,439.9 530.38,439.0 529.38,439.0 529.38,441.8 528.38,441.8 528.38,439.0 527.62,439.0 527.62,446.6 527.38,446.6 527.38,446.3 526.62,446.3 526.62,438.1 525.38,438.1 525.38,440.3 524.38,440.3 524.38,438.0 523.38,438.0 523.38,438.6 522.38,438.6 522.38,441.5 521.38,441.5 521.38,438.9 520.38,438.9 520.38,438.8 519.38,438.8 519.38,440.4 518.38,440.4 518.38,438.3 517.38,438.3 517.38,438.2 516.38,438.2 516.38,438.6 515.38,438.6 515.38,438.0 514.38,438.0 514.38,438.6 513.38,438.6 513.38,438.7 512.38,438.7 512.38,438.0 511.38,438.0 511.38,441.8 510.38,441.8 510.38,438.6 509.38,438.6 509.38,445.0 508.38,445.0 508.38,441.0 508.12,441.0 508.12,443.5 507.38,443.5 507.38,441.2 506.38,441.2 506.38,440.6 505.38,440.6 505.38,445.6 504.38,445.6 504.38,441.2 503.38,441.2 503.38,444.7 502.38,444.7 502.38,445.1 501.62,445.1 501.62,442.3 501.38,442.3 501.38,441.8 500.38,441.8 500.38,445.7 499.38,445.7 499.38,443.5 498.38,443.5 498.38,441.9 497.38,441.9 497.38,442.0 496.38,442.0 496.38,441.8 495.38,441.8 495.38,443.4 494.38,443.4 494.38,441.8 493.38,441.8 493.38,442.3 492.38,442.3 492.38,441.5 491.38,441.5 491.38,445.1 490.38,445.1 490.38,441.9 489.38,441.9 489.38,443.1 488.38,443.1 488.38,441.5 487.38,441.5 487.38,443.2 486.38,443.2 486.38,441.9 485.62,441.9 485.62,447.1 485.38,447.1 485.38,447.4 484.88,447.4 484.88,441.9 484.38,441.9 484.38,442.4 483.38,442.4 483.38,441.9 482.38,441.9 482.38,441.0 481.38,441.0 481.38,441.4 480.38,441.4 480.38,442.2 479.38,442.2 479.38,441.1 478.38,441.1 478.38,442.7 477.38,442.7 477.38,441.4 476.38,441.4 476.38,441.5 475.38,441.5 475.38,444.5 474.38,444.5 474.38,443.1 473.38,443.1 473.38,442.1 472.62,442.1 472.62,445.1 472.38,445.1 472.38,445.8 471.88,445.8 471.88,441.0 471.38,441.0 471.38,440.8 470.38,440.8 470.38,440.6 469.38,440.6 469.38,439.2 468.38,439.2 468.38,439.4 467.38,439.4 467.38,441.7 466.38,441.7 466.38,442.7 465.38,442.7 465.38,439.0 464.38,439.0 464.38,439.9 463.38,439.9 463.38,440.7 462.38,440.7 462.38,439.0 461.38,439.0 461.38,441.6 460.38,441.6 460.38,439.8 460.12,439.8 460.12,442.3 459.38,442.3 459.38,441.9 458.38,441.9 458.38,441.8 457.38,441.8 457.38,442.9 456.38,442.9 456.38,441.7 455.38,441.7 455.38,442.0 454.38,442.0 454.38,442.1 453.38,442.1 453.38,442.5 453.12,442.5 453.12,445.0 452.38,445.0 452.38,441.7 451.38,441.7 451.38,444.1 450.38,444.1 450.38,441.4 449.38,441.4 449.38,441.1 447.38,441.1 447.38,441.2 446.38,441.2 446.38,447.4 445.38,447.4 445.38,441.3 444.38,441.3 444.38,444.3 443.38,444.3 443.38,441.2 442.38,441.2 442.38,441.7 441.38,441.7 441.38,441.5 440.38,441.5 440.38,441.4 439.38,441.4 439.38,442.9 438.38,442.9 438.38,441.6 437.38,441.6 437.38,441.2 436.38,441.2 436.38,441.1 435.38,441.1 435.38,442.4 434.38,442.4 434.38,441.8 433.38,441.8 433.38,441.1 432.38,441.1 432.38,442.1 431.38,442.1 431.38,444.4 430.38,444.4 430.38,443.3 429.38,443.3 429.38,445.4 428.62,445.4 428.62,445.1 428.38,445.1 428.38,443.6 427.88,443.6 427.88,441.3 427.38,441.3 427.38,441.4 426.38,441.4 426.38,444.8 425.38,444.8 425.38,443.5 424.38,443.5 424.38,441.1 423.38,441.1 423.38,441.8 422.38,441.8 422.38,442.2 421.38,442.2 421.38,441.7 420.38,441.7 420.38,441.5 419.38,441.5 419.38,442.7 418.38,442.7 418.38,441.2 417.38,441.2 417.38,442.9 416.38,442.9 416.38,443.6 415.38,443.6 415.38,441.6 414.38,441.6 414.38,441.5 413.38,441.5 413.38,441.9 412.38,441.9 412.38,441.0 411.38,441.0 411.38,444.2 410.38,444.2 410.38,442.7 409.38,442.7 409.38,442.0 408.38,442.0 408.38,441.2 407.38,441.2 407.38,442.0 406.38,442.0 406.38,442.2 405.38,442.2 405.38,445.1 404.38,445.1 404.38,441.4 403.38,441.4 403.38,445.8 402.38,445.8 402.38,441.9 401.38,441.9 401.38,444.9 400.38,444.9 400.38,441.3 399.38,441.3 399.38,441.2 398.38,441.2 398.38,441.9 397.38,441.9 397.38,441.5 397.12,441.5 397.12,447.2 396.38,447.2 396.38,442.1 395.38,442.1 395.38,440.9 394.38,440.9 394.38,440.5 393.38,440.5 393.38,441.0 392.38,441.0 392.38,440.9 391.38,440.9 391.38,440.6 390.38,440.6 390.38,441.8 389.38,441.8 389.38,442.1 388.38,442.1 388.38,441.2 387.38,441.2 387.38,445.7 386.38,445.7 386.38,440.8 385.38,440.8 385.38,440.9 383.38,440.9 383.38,440.6 382.38,440.6 382.38,441.6 381.38,441.6 381.38,442.4 380.38,442.4 380.38,440.5 380.12,440.5 380.12,444.0 379.38,444.0 379.38,445.6 378.38,445.6 378.38,445.4 377.38,445.4 377.38,446.5 376.38,446.5 376.38,444.6 375.38,444.6 375.38,444.0 374.38,444.0 374.38,445.7 373.38,445.7 373.38,447.1 372.38,447.1 372.38,446.5 370.38,446.5 370.38,445.0 369.38,445.0 369.38,446.3 368.38,446.3 368.38,445.4 367.38,445.4 367.38,446.5 366.38,446.5 366.38,445.4 365.38,445.4 365.38,444.2 364.38,444.2 364.38,444.6 363.38,444.6 363.38,447.0 362.38,447.0 362.38,445.5 361.62,445.5 361.62,447.4 360.62,447.4 360.62,444.1 360.38,444.1 360.38,443.4 359.38,443.4 359.38,443.0 358.38,443.0 358.38,443.7 357.38,443.7 357.38,443.4 356.38,443.4 356.38,444.0 354.38,444.0 354.38,443.7 353.38,443.7 353.38,443.6 352.38,443.6 352.38,447.4 351.38,447.4 351.38,444.1 350.38,444.1 350.38,447.4 349.38,447.4 349.38,443.8 348.38,443.8 348.38,443.9 347.38,443.9 347.38,443.4 346.38,443.4 346.38,444.6 345.88,444.6 345.88,447.4 344.38,447.4 344.38,446.9 343.38,446.9 343.38,447.4 342.38,447.4 342.38,443.0 341.38,443.0 341.38,443.4 340.38,443.4 340.38,444.2 339.38,444.2 339.38,445.3 338.38,445.3 338.38,447.4 337.38,447.4 337.38,443.8 336.38,443.8 336.38,445.3 335.38,445.3 335.38,443.6 334.38,443.6 334.38,443.0 334.12,443.0 334.12,446.2 333.38,446.2 333.38,443.7 332.38,443.7 332.38,443.9 331.38,443.9 331.38,442.8 329.38,442.8 329.38,443.1 328.38,443.1 328.38,443.3 326.38,443.3 326.38,443.1 325.38,443.1 325.38,443.0 324.38,443.0 324.38,443.2 323.38,443.2 323.38,443.0 322.38,443.0 322.38,446.5 321.38,446.5 321.38,443.4 320.38,443.4 320.38,445.6 319.38,445.6 319.38,445.5 318.38,445.5 318.38,445.1 317.38,445.1 317.38,446.7 316.88,446.7 316.88,443.9 316.38,443.9 316.38,440.8 315.38,440.8 315.38,440.1 314.38,440.1 314.38,441.7 313.38,441.7 313.38,443.5 312.38,443.5 312.38,440.4 311.38,440.4 311.38,443.4 310.38,443.4 310.38,440.2 309.38,440.2 309.38,442.1 308.38,442.1 308.38,440.4 307.62,440.4 307.62,441.4 307.38,441.4 307.38,446.0 306.88,446.0 306.88,443.8 306.38,443.8 306.38,444.7 305.38,444.7 305.38,439.8 304.38,439.8 304.38,439.4 303.38,439.4 303.38,439.6 302.38,439.6 302.38,438.8 301.38,438.8 301.38,439.3 300.38,439.3 300.38,439.4 300.12,439.4 300.12,440.0 299.38,440.0 299.38,440.2 298.38,440.2 298.38,441.9 297.38,441.9 297.38,440.3 296.38,440.3 296.38,443.7 295.38,443.7 295.38,444.2 294.38,444.2 294.38,439.6 293.38,439.6 293.38,441.2 292.38,441.2 292.38,442.6 291.38,442.6 291.38,440.9 290.38,440.9 290.38,439.8 289.38,439.8 289.38,440.2 288.38,440.2 288.38,439.6 287.38,439.6 287.38,443.4 286.38,443.4 286.38,439.8 285.38,439.8 285.38,442.3 284.38,442.3 284.38,443.4 283.38,443.4 283.38,440.5 282.62,440.5 282.62,441.6 282.38,441.6 282.38,442.2 281.38,442.2 281.38,441.5 280.38,441.5 280.38,441.3 279.38,441.3 279.38,442.5 278.38,442.5 278.38,441.5 277.38,441.5 277.38,441.0 276.38,441.0 276.38,441.7 275.38,441.7 275.38,442.6 274.38,442.6 274.38,441.5 273.38,441.5 273.38,441.6 272.62,441.6 272.62,440.6 272.38,440.6 272.38,440.4 271.38,440.4 271.38,441.7 270.38,441.7 270.38,439.8 269.38,439.8 269.38,439.5 268.38,439.5 268.38,440.6 267.38,440.6 267.38,443.0 266.38,443.0 266.38,442.8 265.38,442.8 265.38,440.4 264.38,440.4 264.38,442.9 263.38,442.9 263.38,440.3 262.38,440.3 262.38,440.7 261.38,440.7 261.38,440.0 260.38,440.0 260.38,439.8 259.38,439.8 259.38,442.4 258.38,442.4 258.38,446.2 257.62,446.2 257.62,443.8 257.38,443.8 257.38,441.5 256.38,441.5 256.38,440.0 255.38,440.0 255.38,441.1 254.38,441.1 254.38,441.5 253.38,441.5 253.38,442.5 252.38,442.5 252.38,442.3 251.38,442.3 251.38,440.2 250.38,440.2 250.38,440.3 249.38,440.3 249.38,444.1 248.38,444.1 248.38,440.7 247.38,440.7 247.38,442.3 246.38,442.3 246.38,442.2 245.38,442.2 245.38,440.9 244.38,440.9 244.38,442.1 243.38,442.1 243.38,441.5 242.38,441.5 242.38,442.5 241.38,442.5 241.38,441.1 240.38,441.1 240.38,443.4 239.38,443.4 239.38,440.5 238.38,440.5 238.38,440.6 237.38,440.6 237.38,440.8 236.38,440.8 236.38,446.4 235.38,446.4 235.38,441.0 234.38,441.0 234.38,441.9 233.38,441.9 233.38,440.7 232.38,440.7 232.38,440.2 231.38,440.2 231.38,441.2 230.38,441.2 230.38,442.1 229.38,442.1 229.38,442.5 228.38,442.5 228.38,446.1 227.88,446.1 227.88,446.8 227.38,446.8 227.38,445.4 226.38,445.4 226.38,446.8 225.62,446.8 225.62,442.6 224.38,442.6 224.38,441.1 223.38,441.1 223.38,442.2 222.38,442.2 222.38,445.9 221.38,445.9 221.38,440.5 220.38,440.5 220.38,440.7 220.12,440.7 220.12,441.2 219.38,441.2 219.38,445.2 218.38,445.2 218.38,441.2 217.38,441.2 217.38,441.4 216.38,441.4 216.38,441.2 215.38,441.2 215.38,441.9 214.38,441.9 214.38,447.4 213.38,447.4 213.38,441.2 212.38,441.2 212.38,441.6 211.62,441.6 211.62,444.6 211.38,444.6 211.38,444.2 210.38,444.2 210.38,445.8 209.38,445.8 209.38,439.1 208.38,439.1 208.38,438.7 207.38,438.7 207.38,438.6 206.38,438.6 206.38,438.7 205.38,438.7 205.38,438.6 204.38,438.6 204.38,439.9 203.38,439.9 203.38,439.2 202.38,439.2 202.38,440.7 201.38,440.7 201.38,440.6 200.38,440.6 200.38,438.6 199.38,438.6 199.38,439.8 198.38,439.8 198.38,440.1 197.38,440.1 197.38,439.7 196.38,439.7 196.38,439.3 195.38,439.3 195.38,438.9 194.38,438.9 194.38,439.4 193.38,439.4 193.38,438.9 192.62,438.9 192.62,441.4 192.38,441.4 192.38,441.2 191.38,441.2 191.38,444.0 190.38,444.0 190.38,440.8 189.38,440.8 189.38,442.8 188.38,442.8 188.38,443.0 187.38,443.0 187.38,440.8 186.38,440.8 186.38,442.9 185.38,442.9 185.38,440.4 184.38,440.4 184.38,442.0 183.38,442.0 183.38,440.2 182.38,440.2 182.38,440.9 181.38,440.9 181.38,441.5 180.38,441.5 180.38,440.5 179.38,440.5 179.38,447.0 178.38,447.0 178.38,441.7 177.38,441.7 177.38,441.5 176.38,441.5 176.38,444.1 175.38,444.1 175.38,440.9 174.62,440.9 174.62,443.9 174.38,443.9 174.38,444.3 173.62,444.3 173.62,440.1 173.38,440.1 173.38,439.3 172.38,439.3 172.38,440.0 171.38,440.0 171.38,440.3 170.38,440.3 170.38,439.7 169.38,439.7 169.38,440.8 168.38,440.8 168.38,439.0 167.38,439.0 167.38,439.3 166.38,439.3 166.38,441.7 165.38,441.7 165.38,440.0 164.38,440.0 164.38,440.5 163.38,440.5 163.38,439.3 162.38,439.3 162.38,440.0 161.38,440.0 161.38,439.6 160.38,439.6 160.38,439.1 159.38,439.1 159.38,438.9 158.38,438.9 158.38,439.5 157.38,439.5 157.38,440.0 156.38,440.0 156.38,441.2 155.38,441.2 155.38,439.0 154.38,439.0 154.38,439.3 153.38,439.3 153.38,438.9 152.38,438.9 152.38,439.5 151.38,439.5 151.38,442.9 151.12,442.9 151.12,447.4 150.38,447.4 150.38,446.4 149.38,446.4 149.38,447.4 148.38,447.4 148.38,446.1 147.38,446.1 147.38,446.8 146.38,446.8 146.38,447.0 145.38,447.0 145.38,446.6 144.38,446.6 144.38,446.1 143.38,446.1 143.38,446.2 142.50,446.2"/><line x1="141.8" y1="36" x2="141.8" y2="448.85" stroke="#000" stroke-width="2"/><polygon points="142,20 137.5,39 146.5,39" fill="#000"/><line x1="140.8" y1="448.1" x2="958" y2="448.1" stroke="#000" stroke-width="1.5"/><polygon points="974,448.2 955.5,442.8 955.5,453.6" fill="#000"/><text transform="translate(130.3 456.1) scale(1 1.04)" text-anchor="end" class="t">0</text><text transform="translate(132.3 386.0) scale(1 1.04)" text-anchor="end" class="t">200</text><text transform="translate(132.3 315.9) scale(1 1.04)" text-anchor="end" class="t">400</text><text transform="translate(132.3 245.8) scale(1 1.04)" text-anchor="end" class="t">600</text><text transform="translate(132.3 175.7) scale(1 1.04)" text-anchor="end" class="t">800</text><text transform="translate(133.3 105.6) scale(1 1.04)" text-anchor="end" class="t">1000</text><text transform="translate(133.3 34.5) scale(1 1.04)" text-anchor="end" class="t">1200</text><text transform="translate(162.0 467.5) rotate(-45) scale(1 1.04)" text-anchor="end" class="t">2015/1/1</text><text transform="translate(274.1 467.2) rotate(-45) scale(1 1.04)" text-anchor="end" class="t">2015/7/20</text><text transform="translate(386.2 466.9) rotate(-45) scale(1 1.04)" text-anchor="end" class="t">2016/2/5</text><text transform="translate(498.3 466.6) rotate(-45) scale(1 1.04)" text-anchor="end" class="t">2016/8/23</text><text transform="translate(610.4 466.4) rotate(-45) scale(1 1.04)" text-anchor="end" class="t">2017/3/11</text><text transform="translate(722.5 466.1) rotate(-45) scale(1 1.04)" text-anchor="end" class="t">2017/9/27</text><text transform="translate(834.6 465.8) rotate(-45) scale(1 1.04)" text-anchor="end" class="t">2018/4/15</text><text transform="translate(946.7 465.5) rotate(-45) scale(1 1.04)" text-anchor="end" class="t">2018/11/1</text><text transform="translate(69.2 333.0) rotate(-90) scale(1 1.04)" class="t">Price/(GBP/MWh)</text><text transform="translate(491.5 591.7) scale(1 1.04)" class="t">Time/3<tspan dx="2">0</tspan><tspan dx="-1">min</tspan></text></svg>
</body></html>
